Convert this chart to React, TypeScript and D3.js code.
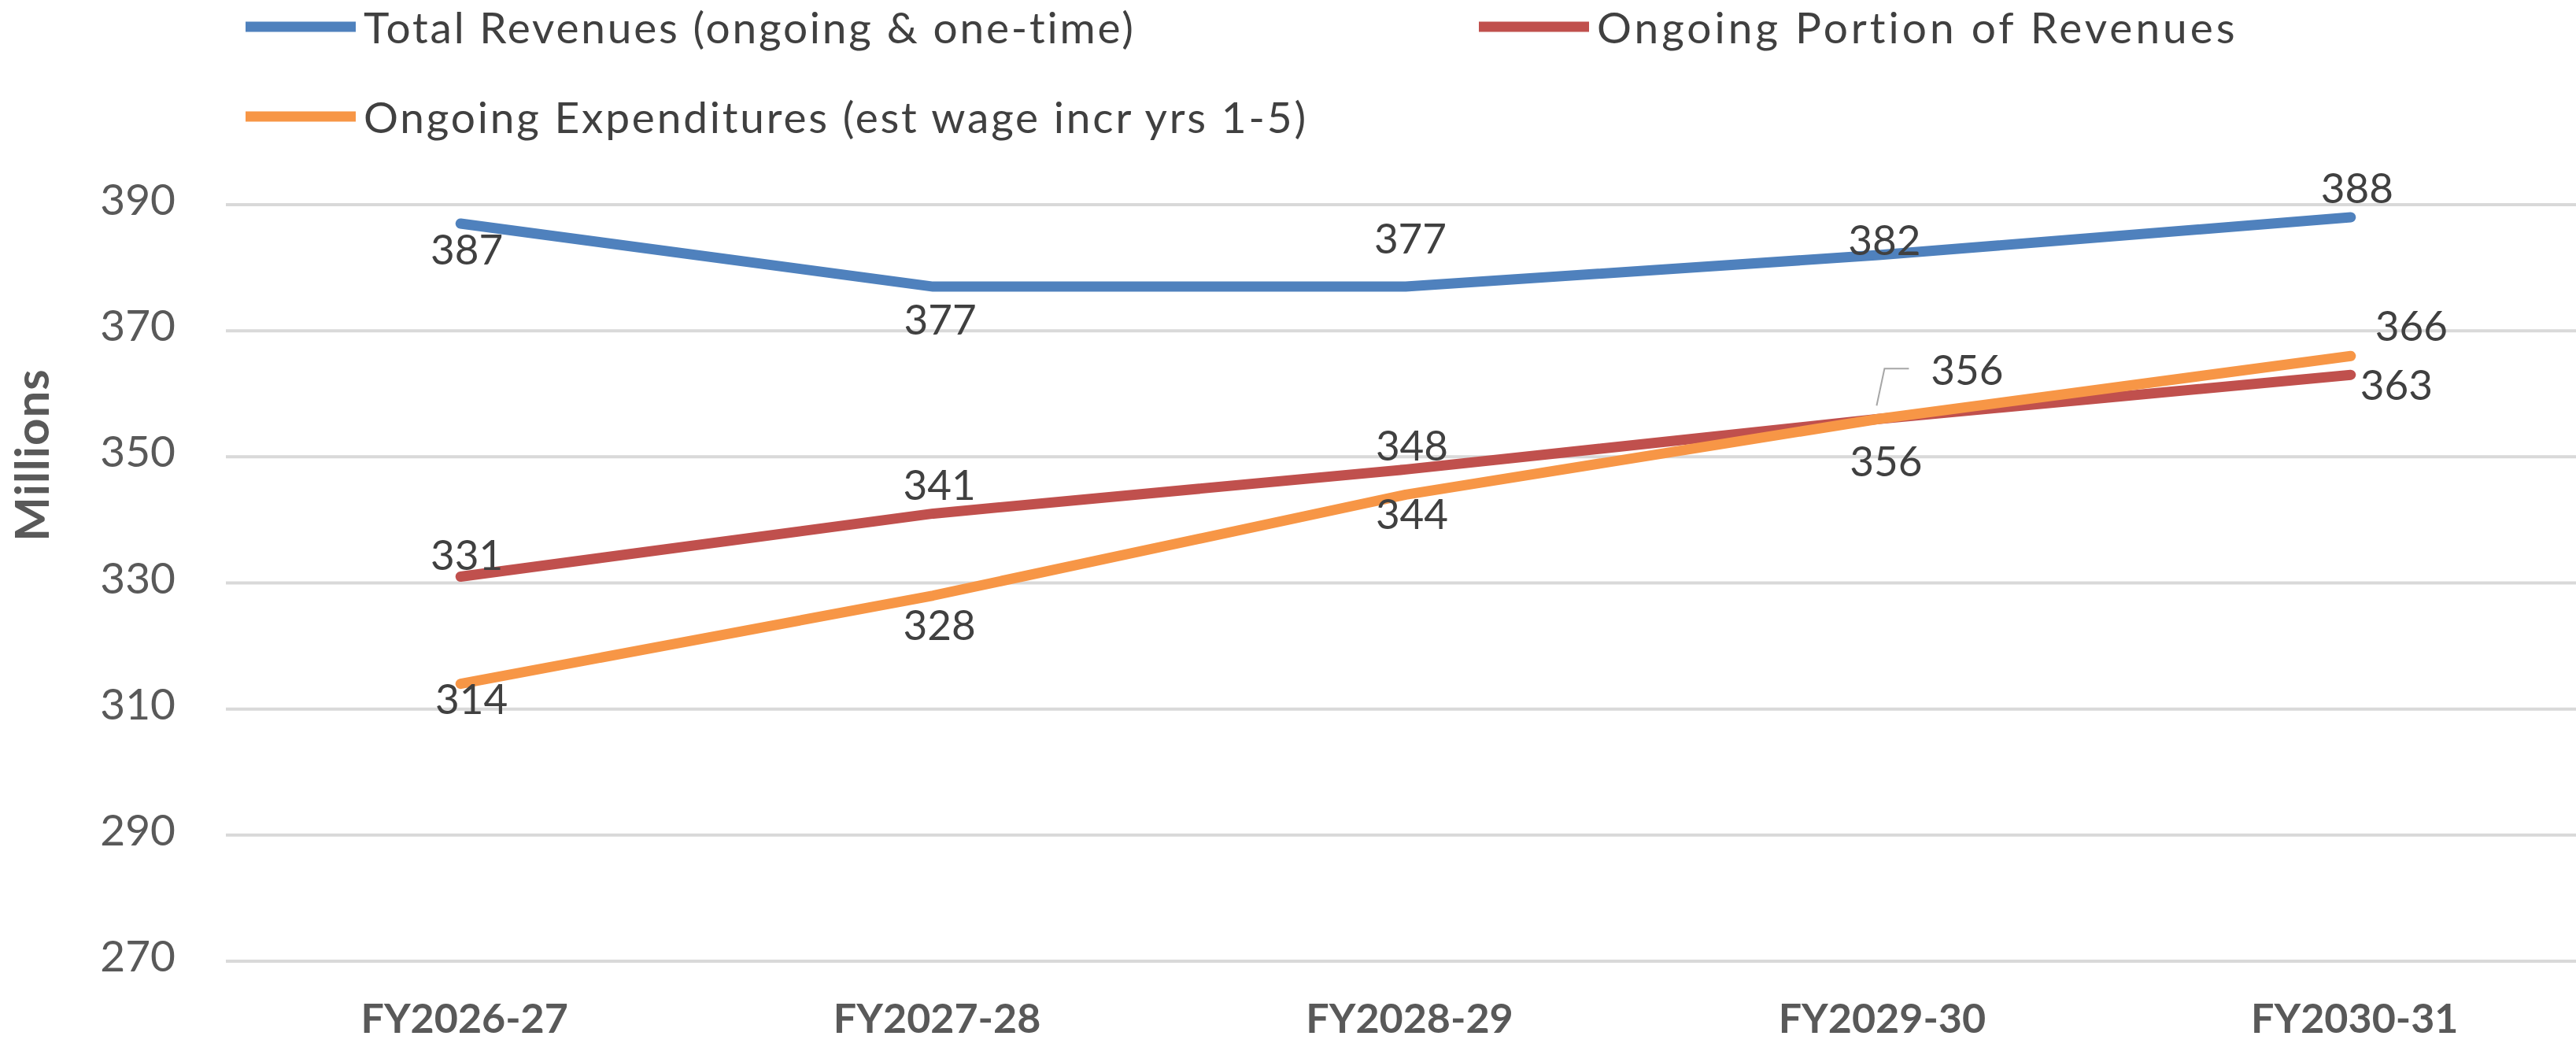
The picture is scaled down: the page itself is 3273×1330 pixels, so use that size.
import React from "react";
import * as d3 from "d3";

// Fiscal years on the x axis
const categories = ["FY2026-27", "FY2027-28", "FY2028-29", "FY2029-30", "FY2030-31"];

// Values in millions
const totalRevenues = [387, 377, 377, 382, 388];
const ongoingRevenues = [331, 341, 348, 356, 363];
const ongoingExpenditures = [314, 328, 344, 356, 366];

const yTicks = [270, 290, 310, 330, 350, 370, 390];

const seriesNames = [
  "Total Revenues (ongoing & one-time)",
  "Ongoing Portion of Revenues",
  "Ongoing Expenditures (est wage incr yrs 1-5)",
];

const seriesColors = ["#4F81BD", "#C0504D", "#F79646"];

// Data-label placement relative to each point (label centre offset, px)
const labelOffsets: [number, number][][] = [
  [[8, 31], [9, 40], [6, -63], [8, -21], [8, -39]],
  [[8, -29], [8, -38], [8, -32], [113, -64], [58, 11]],
  [[14, 18], [8, 36], [8, 23], [10, 52], [77, -40]],
];

const W = 3273;
const H = 1330;
const FONT = "Lato, 'Open Sans', sans-serif";

export default function App() {
  const series = [totalRevenues, ongoingRevenues, ongoingExpenditures];

  const x = d3.scalePoint<string>().domain(categories).range([285, 3287]).padding(0.5);
  const y = d3.scaleLinear().domain([270, 390]).range([1221, 260]);

  const line = d3
    .line<number>()
    .x((_, i) => x(categories[i]) as number)
    .y((v) => y(v));

  const legendPos = [
    { x: 312, y: 34 },
    { x: 1879, y: 34 },
    { x: 312, y: 148 },
  ];

  return (
    <svg
      width={W}
      height={H}
      style={{ position: "absolute", left: 0, top: 0, background: "#fff" }}
      fontFamily={FONT}
    >
      {/* gridlines */}
      {yTicks.map((t) => (
        <line key={t} x1={287} x2={3287} y1={y(t)} y2={y(t)} stroke="#D9D9D9" strokeWidth={4} />
      ))}

      {/* y tick labels */}
      {yTicks.map((t) => (
        <text key={t} x={223} y={y(t) + 13} textAnchor="end" fontSize={55} fill="#595959">
          {t}
        </text>
      ))}

      {/* axis title */}
      <text
        transform="translate(62,578) rotate(-90)"
        textAnchor="middle"
        fontSize={60}
        fontWeight="bold"
        letterSpacing={1}
        fill="#595959"
      >
        Millions
      </text>

      {/* x labels */}
      {categories.map((c) => (
        <text key={c} x={(x(c) as number) + 5} y={1312} textAnchor="middle" fontSize={52} fontWeight="bold" fill="#595959">
          {c}
        </text>
      ))}

      {/* series lines */}
      {series.map((s, si) => (
        <path
          key={si}
          d={line(s) || ""}
          fill="none"
          stroke={seriesColors[si]}
          strokeWidth={13}
          strokeLinejoin="round"
          strokeLinecap="round"
        />
      ))}

      {/* leader line for the crowded FY2029-30 label */}
      {(() => {
        const px = x(categories[3]) as number;
        const py = y(ongoingRevenues[3]);
        return (
          <path
            d={`M${px - 2},${py - 17} L${px + 8},${py - 64} L${px + 39},${py - 64}`}
            fill="none"
            stroke="#A6A6A6"
            strokeWidth={2}
          />
        );
      })()}

      {/* data labels */}
      {series.map((s, si) =>
        s.map((v, i) => {
          const [dx, dy] = labelOffsets[si][i];
          return (
            <text
              key={`${si}-${i}`}
              x={(x(categories[i]) as number) + dx}
              y={y(v) + dy}
              textAnchor="middle"
              dominantBaseline="central"
              fontSize={53}
              fill="#404040"
            >
              {v}
            </text>
          );
        })
      )}

      {/* legend */}
      {seriesNames.map((name, i) => (
        <g key={name} transform={`translate(${legendPos[i].x},${legendPos[i].y})`}>
          <line x1={0} x2={140} y1={0} y2={0} stroke={seriesColors[i]} strokeWidth={13} />
          <text x={150} y={21} fontSize={55} letterSpacing={i === 1 ? 4 : 2.8} fill="#404040">
            {name}
          </text>
        </g>
      ))}
    </svg>
  );
}
